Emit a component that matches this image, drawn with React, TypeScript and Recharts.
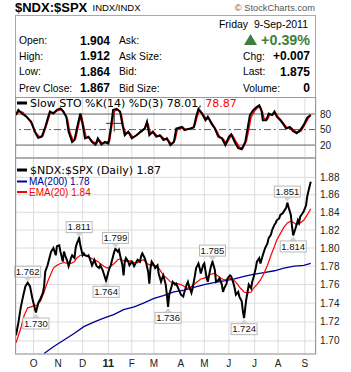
import React from 'react';
import { LineChart, Line, XAxis, YAxis, CartesianGrid, ReferenceLine, ReferenceDot } from 'recharts';

const W = 351;
const H = 372;
const SANS = 'Liberation Sans, Arial, sans-serif';
const VERD = 'DejaVu Sans, Verdana, sans-serif';

// x axis: trading-day index (0 = 10-Sep-2010 ... 252 = 9-Sep-2011)
const monthTickDays = [15, 36, 57, 79, 99, 118, 141, 161, 182, 204, 224, 247];
const monthTickLabels = ['O', 'N', 'D', '11', 'F', 'M', 'A', 'M', 'J', 'J', 'A', 'S'];
const priceTicks = [1.7, 1.72, 1.74, 1.76, 1.78, 1.8, 1.82, 1.84, 1.86, 1.88];
const stoTicks = [20, 50, 80];

const priceDays = [
  0, 2, 4, 6, 8, 10, 12, 14, 15, 17,
  19, 21, 23, 24, 25, 27, 30, 32, 34, 35,
  37, 38, 40, 41, 42, 44, 45, 47, 48, 50,
  51, 52, 54, 55, 57, 58, 59, 61, 62, 64,
  65, 67, 68, 69, 71, 72, 74, 75, 77, 79,
  80, 81, 83, 84, 85, 87, 88, 89, 91, 92,
  93, 94, 96, 97, 99, 100, 101, 103, 104, 106,
  107, 108, 110, 111, 113, 114, 115, 116, 118, 119,
  121, 122, 124, 125, 126, 128, 129, 130, 131, 133,
  134, 136, 137, 138, 140, 141, 143, 144, 146, 147,
  148, 150, 151, 153, 154, 156, 157, 158, 160, 161,
  163, 164, 166, 167, 168, 170, 171, 173, 174, 176,
  177, 178, 180, 181, 183, 184, 186, 187, 188, 190,
  191, 193, 194, 195, 196, 197, 198, 199, 201, 202,
  203, 205, 206, 208, 209, 211, 212, 213, 215, 216,
  218, 219, 221, 222, 223, 225, 226, 228, 229, 231,
  232, 233, 235, 236, 237, 239, 241, 242, 243, 245,
  246, 248, 249, 250, 252,
];
const priceValues = [
  1.706, 1.719, 1.735, 1.747, 1.758, 1.762, 1.758, 1.745, 1.74, 1.73,
  1.74, 1.745, 1.751, 1.758, 1.774, 1.781, 1.796, 1.8, 1.792, 1.802,
  1.803, 1.796, 1.785, 1.796, 1.792, 1.785, 1.78, 1.789, 1.792, 1.789,
  1.8, 1.805, 1.811, 1.803, 1.792, 1.794, 1.792, 1.791, 1.792, 1.785,
  1.781, 1.787, 1.783, 1.78, 1.778, 1.781, 1.776, 1.772, 1.764, 1.774,
  1.778, 1.781, 1.791, 1.796, 1.799, 1.796, 1.798, 1.792, 1.781, 1.77,
  1.785, 1.789, 1.785, 1.781, 1.785, 1.783, 1.78, 1.785, 1.787, 1.785,
  1.791, 1.794, 1.789, 1.785, 1.774, 1.761, 1.778, 1.785, 1.781, 1.778,
  1.781, 1.772, 1.763, 1.767, 1.77, 1.76, 1.749, 1.736, 1.749, 1.758,
  1.763, 1.76, 1.761, 1.758, 1.752, 1.749, 1.747, 1.752, 1.76, 1.763,
  1.758, 1.751, 1.756, 1.77, 1.778, 1.783, 1.778, 1.772, 1.781, 1.783,
  1.767, 1.763, 1.776, 1.781, 1.785, 1.776, 1.763, 1.765, 1.767, 1.76,
  1.752, 1.756, 1.761, 1.767, 1.77, 1.769, 1.761, 1.756, 1.749, 1.752,
  1.747, 1.742, 1.731, 1.724, 1.735, 1.745, 1.752, 1.76, 1.756, 1.763,
  1.767, 1.778, 1.785, 1.789, 1.783, 1.792, 1.796, 1.8, 1.805, 1.811,
  1.815, 1.82, 1.826, 1.828, 1.831, 1.833, 1.837, 1.839, 1.841, 1.845,
  1.851, 1.846, 1.837, 1.824, 1.814, 1.822, 1.831, 1.828, 1.835, 1.839,
  1.841, 1.848, 1.858, 1.864, 1.875,
];

const emaDays = [
  0, 4, 7, 10, 13, 15, 18, 21, 24, 27,
  30, 32, 35, 38, 41, 44, 47, 50, 52, 55,
  58, 61, 64, 67, 70, 72, 75, 78, 81, 84,
  87, 89, 92, 95, 98, 101, 104, 107, 109, 112,
  115, 118, 121, 124, 126, 129, 132, 135, 138, 141,
  144, 146, 149, 152, 155, 158, 161, 164, 166, 169,
  172, 175, 178, 181, 183, 186, 189, 192, 195, 198,
  201, 203, 206, 209, 212, 215, 218, 221, 223, 226,
  229, 232, 235, 238, 240, 243, 246, 249, 252,
];
const emaValues = [
  1.698, 1.713, 1.727, 1.735, 1.736, 1.737, 1.738, 1.742, 1.752, 1.763,
  1.772, 1.778, 1.781, 1.783, 1.784, 1.783, 1.783, 1.785, 1.789, 1.792,
  1.792, 1.791, 1.789, 1.787, 1.785, 1.783, 1.78, 1.778, 1.78, 1.783,
  1.787, 1.788, 1.786, 1.785, 1.786, 1.784, 1.784, 1.786, 1.787, 1.783,
  1.781, 1.781, 1.78, 1.774, 1.77, 1.767, 1.763, 1.762, 1.761, 1.76,
  1.758, 1.756, 1.757, 1.76, 1.763, 1.766, 1.767, 1.769, 1.771, 1.772,
  1.77, 1.767, 1.765, 1.766, 1.767, 1.765, 1.761, 1.756, 1.752, 1.751,
  1.752, 1.756, 1.76, 1.765, 1.772, 1.781, 1.792, 1.802, 1.809, 1.816,
  1.823, 1.828, 1.83, 1.828, 1.826, 1.828, 1.831, 1.837, 1.844,
];

const maDays = [24, 32, 41, 50, 58, 67, 75, 84, 92, 101, 109, 118, 126, 135, 144, 152, 161, 169, 178, 186, 195, 203, 212, 221, 229, 238, 246, 252];
const maValues = [1.687, 1.694, 1.701, 1.708, 1.715, 1.72, 1.724, 1.728, 1.733, 1.736, 1.74, 1.745, 1.748, 1.752, 1.754, 1.757, 1.76, 1.762, 1.764, 1.766, 1.769, 1.771, 1.773, 1.775, 1.778, 1.78, 1.781, 1.783];

const stoKDays = [
  0, 2, 5, 9, 13, 16, 19, 22, 25, 28, 29, 32, 35, 38, 40, 43, 45, 48, 50, 53,
  55, 57, 59, 62, 65, 68, 70, 73, 76, 79, 81, 83, 86, 89, 91, 93, 96, 99, 103, 107,
  110, 112, 114, 117, 120, 123, 126, 129, 132, 135, 137, 142, 144, 149, 152, 154, 156, 159, 162, 164,
  167, 170, 173, 176, 179, 182, 184, 187, 190, 193, 196, 198, 200, 203, 206, 208, 210, 211, 214, 216,
  219, 221, 223, 226, 229, 231, 234, 237, 240, 243, 246, 249, 252,
];
const stoKValues = [
  78, 88, 81, 75, 65, 46, 34, 36, 55, 78, 85, 81, 88, 91, 86, 75, 46, 26, 30, 62,
  81, 59, 33, 36, 26, 21, 33, 21, 26, 23, 52, 88, 90, 85, 59, 39, 46, 33, 39, 47,
  52, 65, 39, 46, 36, 39, 30, 33, 20, 26, 52, 55, 49, 52, 54, 75, 90, 81, 68, 75,
  62, 52, 36, 33, 20, 36, 41, 26, 14, 12, 26, 52, 78, 88, 94, 97, 85, 68, 68, 81,
  78, 85, 75, 68, 59, 52, 55, 47, 43, 49, 59, 73, 78.01,
];

const stoDDays = [
  0, 3, 6, 10, 14, 17, 20, 23, 26, 29, 31, 33, 36, 39, 41, 44, 46, 49, 51, 54,
  56, 58, 60, 63, 66, 69, 71, 74, 77, 80, 82, 84, 87, 90, 92, 94, 97, 100, 104, 108,
  111, 113, 115, 118, 121, 124, 127, 130, 133, 136, 138, 143, 145, 150, 153, 155, 157, 160, 163, 165,
  168, 171, 174, 177, 180, 183, 185, 188, 191, 194, 197, 199, 201, 204, 207, 209, 211, 212, 215, 217,
  220, 222, 224, 227, 230, 232, 235, 238, 241, 244, 247, 250, 252,
];
const stoDValues = [
  80, 85, 83, 72, 60, 44, 36, 38, 58, 80, 83, 83, 87, 89, 84, 70, 45, 28, 33, 64,
  76, 55, 35, 33, 26, 23, 30, 23, 25, 28, 58, 85, 89, 80, 55, 42, 44, 35, 40, 47,
  55, 60, 42, 44, 37, 38, 31, 30, 22, 30, 50, 54, 50, 52, 58, 76, 88, 79, 70, 72,
  61, 50, 37, 32, 23, 35, 39, 27, 16, 14, 28, 50, 74, 86, 93, 94, 82, 72, 70, 79,
  79, 82, 75, 67, 58, 53, 54, 48, 44, 48, 60, 72, 78.87,
];

// labelled highs (above) and lows (below)
const peakDays = [10, 17, 54, 77, 85, 130, 168, 195, 232, 237];
const peakValues = [1.762, 1.73, 1.811, 1.764, 1.799, 1.736, 1.785, 1.724, 1.851, 1.814];
const peakBelow = [false, true, false, true, false, true, false, true, false, true];

const zip = (ds: number[], vs: number[]) =>
  ds.map((d, i) => ({ d, v: vs[i] })).filter((p) => p.v !== undefined);

const MonthTick = (props: any) => {
  const { x, y, payload } = props;
  const idx = monthTickDays.indexOf(payload.value);
  const label = idx >= 0 ? monthTickLabels[idx] : '';
  return (
    <text
      x={x}
      y={y + 12.5}
      textAnchor="middle"
      fontSize={label === '11' ? 11 : 10}
      fontWeight={label === '11' ? 'bold' : 'normal'}
      fontFamily={SANS}
      fill="#222"
    >
      {label}
    </text>
  );
};

const PeakLabel = (props: any) => {
  const { cx, cy, text, below } = props;
  if (cx == null || cy == null) return <g />;
  const w = 26;
  const h = 11;
  const by = below ? cy + 5.5 : cy - 5.5 - h;
  const baseY = below ? by : by + h;
  const tipY = below ? cy + 1 : cy - 1;
  return (
    <g>
      <polygon points={`${cx - 4},${baseY} ${cx + 4},${baseY} ${cx},${tipY}`} fill="#d4d4d4" />
      <rect x={cx - w / 2} y={by} width={w} height={h} fill="#ffffff" stroke="#b8b8b8" strokeWidth={1} />
      <text x={cx} y={by + h - 2.2} textAnchor="middle" fontSize={9.5} fontFamily={SANS} fill="#111">
        {text}
      </text>
    </g>
  );
};

export default function App() {
  const priceData = zip(priceDays, priceValues);
  const emaData = zip(emaDays, emaValues);
  const maData = zip(maDays, maValues);
  const kData = zip(stoKDays, stoKValues);
  const dData = zip(stoDDays, stoDValues);

  const green = '#3d803d';

  return (
    <div style={{ position: 'absolute', left: 0, top: 0, width: W, height: H, background: '#fff', overflow: 'hidden' }}>
      {/* Stochastics panel */}
      <div style={{ position: 'absolute', left: 0, top: 0 }}>
        <LineChart width={W} height={158} margin={{ top: 97, right: 0, bottom: 0, left: 16 }}>
          <CartesianGrid horizontal={false} stroke="#dcdcdc" />
          <XAxis type="number" dataKey="d" domain={[0, 256.5]} ticks={monthTickDays} interval={0} hide allowDataOverflow />
          <YAxis
            orientation="right"
            type="number"
            domain={[-5, 113]}
            ticks={stoTicks}
            interval={0}
            width={35}
            tickLine={false}
            axisLine={false}
            tickSize={0}
            tickMargin={4}
            allowDataOverflow
            tick={{ fontSize: 10, fill: '#222', fontFamily: SANS }}
          />
          <ReferenceLine y={80} stroke="#606060" />
          <ReferenceLine y={50} stroke="#606060" strokeDasharray="7 3 2 3" />
          <ReferenceLine y={20} stroke="#606060" />
          <ReferenceLine segment={[{ x: 77, y: 62 }, { x: 91, y: 62 }]} stroke="#333" />
          <ReferenceLine segment={[{ x: 84, y: 84 }, { x: 84, y: 46 }]} stroke="#333" />
          <Line data={dData} dataKey="v" stroke="#ff0000" strokeWidth={1.5} dot={false} isAnimationActive={false} />
          <Line data={kData} dataKey="v" stroke="#000000" strokeWidth={2} dot={false} isAnimationActive={false} />
        </LineChart>
      </div>

      {/* Price panel */}
      <div style={{ position: 'absolute', left: 0, top: 0 }}>
        <LineChart width={W} height={H} margin={{ top: 158, right: 0, bottom: 0, left: 16 }}>
          <CartesianGrid stroke="#dcdcdc" />
          <XAxis
            type="number"
            dataKey="d"
            domain={[0, 256.5]}
            ticks={monthTickDays}
            interval={0}
            height={18}
            tickLine={false}
            axisLine={false}
            tickSize={0}
            tickMargin={0}
            allowDataOverflow
            tick={<MonthTick />}
          />
          <YAxis
            orientation="right"
            type="number"
            scale="log"
            domain={[1.6864, 1.9025]}
            ticks={priceTicks}
            interval={0}
            width={35}
            tickLine={false}
            axisLine={false}
            tickSize={0}
            tickMargin={4}
            allowDataOverflow
            tickFormatter={(v: number) => v.toFixed(2)}
            tick={{ fontSize: 10, fill: '#222', fontFamily: SANS }}
          />
          <Line data={maData} dataKey="v" stroke="#000099" strokeWidth={1.3} dot={false} isAnimationActive={false} />
          <Line data={emaData} dataKey="v" stroke="#ff0000" strokeWidth={1.2} dot={false} isAnimationActive={false} />
          <Line data={priceData} dataKey="v" stroke="#000000" strokeWidth={2} dot={false} isAnimationActive={false} />
          {peakDays.map((d, i) => (
            <ReferenceDot
              key={d}
              x={d}
              y={peakValues[i]}
              r={0}
              ifOverflow="visible"
              shape={(p: any) => (
                <PeakLabel cx={p.cx} cy={p.cy} text={peakValues[i].toFixed(3)} below={peakBelow[i]} />
              )}
            />
          ))}
        </LineChart>
      </div>

      {/* Frames, header and legends */}
      <svg width={W} height={H} style={{ position: 'absolute', left: 0, top: 0, pointerEvents: 'none' }}>
        <rect x={15.5} y={15.5} width={300} height={82} fill="none" stroke="#a8a8a8" />
        <rect x={15.5} y={97.5} width={300} height={60.5} fill="none" stroke="#999" />
        <rect x={15.5} y={158} width={300} height={196} fill="none" stroke="#999" />

        <text x={15} y={12} fontSize={13} fontWeight="bold" fontFamily={SANS} fill="#000">$NDX:$SPX</text>
        <text x={92.5} y={10.7} fontSize={9.5} fontFamily={SANS} fill="#000">INDX/INDX</text>
        <text x={315} y={10.7} fontSize={9.3} fontFamily={SANS} fill="#555" textAnchor="end">© StockCharts.com</text>

        <text x={308} y={28.3} fontSize={10.5} fontFamily={SANS} fill="#000" textAnchor="end" style={{ whiteSpace: 'pre' }}>
          {'Friday  9-Sep-2011'}
        </text>

        <g fontFamily={SANS} fontSize={10.3} fill="#000">
          <text x={19} y={44}>Open:</text>
          <text x={19} y={59.5}>High:</text>
          <text x={19} y={75}>Low:</text>
          <text x={19} y={91.5}>Prev Close:</text>
          <text x={119} y={44}>Ask:</text>
          <text x={119} y={59.5}>Ask Size:</text>
          <text x={119} y={75}>Bid:</text>
          <text x={119} y={91.5}>Bid Size:</text>
          <text x={243} y={59.5}>Chg:</text>
          <text x={243} y={75}>Last:</text>
          <text x={243} y={91.5}>Volume:</text>
        </g>
        <g fontFamily={SANS} fontSize={12} fontWeight="bold" fill="#000" textAnchor="end">
          <text x={110} y={44.5}>1.904</text>
          <text x={110} y={60}>1.912</text>
          <text x={110} y={75.5}>1.864</text>
          <text x={110} y={92}>1.867</text>
          <text x={310} y={60}>+0.007</text>
          <text x={310} y={75.5}>1.875</text>
          <text x={310} y={92}>0</text>
        </g>
        <polygon points="244,45 257,45 250.5,34" fill={green} />
        <text x={310} y={45} fontSize={14.3} fontWeight="bold" fontFamily={SANS} fill={green} textAnchor="end">+0.39%</text>

        {/* STO legend */}
        <line x1={17} x2={27} y1={103} y2={103} stroke="#000" strokeWidth={3} />
        <text x={30} y={107} fontSize={11} fontFamily={VERD} fill="#000">
          Slow STO %K(14) %D(3) 78.01, <tspan fill="#ff0000">78.87</tspan>
        </text>

        {/* price legend */}
        <line x1={17} x2={27} y1={170} y2={170} stroke="#000" strokeWidth={3} />
        <text x={30} y={174} fontSize={11} fontFamily={VERD} fill="#000">$NDX:$SPX (Daily) 1.87</text>
        <line x1={17} x2={27} y1={181.5} y2={181.5} stroke="#000099" strokeWidth={2} />
        <text x={29} y={185} fontSize={10} fontFamily={SANS} fill="#000099">MA(200) 1.78</text>
        <line x1={17} x2={27} y1={192} y2={192} stroke="#ff0000" strokeWidth={2} />
        <text x={29} y={195.7} fontSize={10} fontFamily={SANS} fill="#ff0000">EMA(20) 1.84</text>
      </svg>
    </div>
  );
}
